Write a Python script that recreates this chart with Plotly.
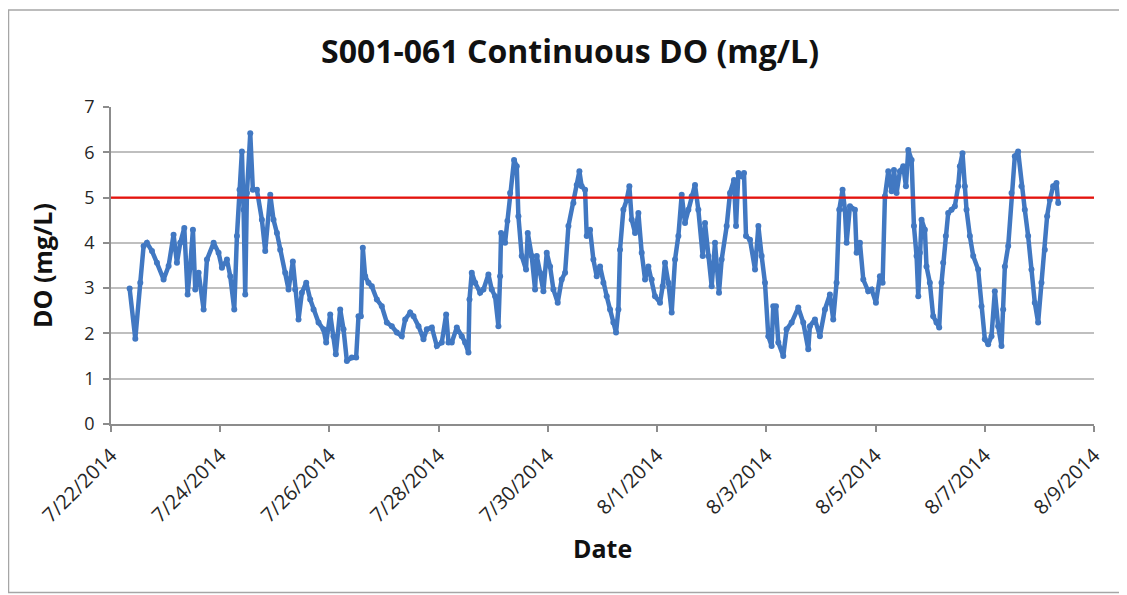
import pandas as pd
import plotly.graph_objects as go

# Days elapsed since 7/22/2014 00:00 and DO readings (mg/L)
day_offsets = [
    0.341, 0.445, 0.536, 0.597, 0.658, 0.750, 0.841, 0.963, 1.055, 1.146,
    1.207, 1.268, 1.342, 1.403, 1.451, 1.500, 1.543, 1.604, 1.696, 1.757,
    1.879, 1.970, 2.031, 2.123, 2.184, 2.257, 2.306, 2.354, 2.397, 2.428,
    2.458, 2.489, 2.550, 2.598, 2.672, 2.763, 2.824, 2.916, 2.976, 3.038,
    3.098, 3.190, 3.251, 3.330, 3.373, 3.434, 3.495, 3.575, 3.648, 3.709,
    3.800, 3.892, 3.940, 4.014, 4.075, 4.117, 4.197, 4.258, 4.319, 4.410,
    4.489, 4.532, 4.575, 4.611, 4.654, 4.715, 4.776, 4.868, 4.959, 5.051,
    5.142, 5.234, 5.325, 5.387, 5.478, 5.539, 5.631, 5.722, 5.783, 5.875,
    5.966, 6.057, 6.137, 6.180, 6.240, 6.332, 6.423, 6.484, 6.545, 6.564,
    6.606, 6.668, 6.759, 6.820, 6.911, 6.972, 7.033, 7.094, 7.125, 7.143,
    7.216, 7.259, 7.308, 7.381, 7.430, 7.460, 7.521, 7.600, 7.631, 7.704,
    7.765, 7.796, 7.857, 7.918, 7.979, 8.040, 8.101, 8.180, 8.253, 8.315,
    8.376, 8.467, 8.528, 8.577, 8.619, 8.681, 8.711, 8.772, 8.833, 8.894,
    8.955, 9.016, 9.077, 9.138, 9.199, 9.248, 9.291, 9.321, 9.382, 9.443,
    9.492, 9.535, 9.596, 9.657, 9.718, 9.779, 9.840, 9.901, 9.961, 10.053,
    10.102, 10.144, 10.206, 10.267, 10.328, 10.389, 10.450, 10.511, 10.572, 10.633,
    10.694, 10.755, 10.835, 10.877, 10.938, 10.999, 11.060, 11.133, 11.182, 11.274,
    11.335, 11.408, 11.445, 11.488, 11.549, 11.591, 11.628, 11.701, 11.793, 11.854,
    11.914, 11.975, 12.036, 12.097, 12.127, 12.176, 12.219, 12.310, 12.371, 12.463,
    12.585, 12.676, 12.768, 12.798, 12.890, 12.981, 13.073, 13.164, 13.225, 13.286,
    13.335, 13.396, 13.439, 13.470, 13.531, 13.622, 13.653, 13.714, 13.775, 13.866,
    13.927, 14.007, 14.080, 14.129, 14.172, 14.233, 14.294, 14.337, 14.385, 14.446,
    14.507, 14.556, 14.599, 14.660, 14.703, 14.751, 14.782, 14.811, 14.842, 14.903,
    14.933, 14.994, 15.055, 15.116, 15.165, 15.208, 15.238, 15.287, 15.330, 15.391,
    15.452, 15.513, 15.544, 15.592, 15.635, 15.666, 15.727, 15.788, 15.879, 15.940,
    16.001, 16.062, 16.123, 16.184, 16.245, 16.306, 16.337, 16.368, 16.429, 16.490,
    16.550, 16.611, 16.672, 16.733, 16.794, 16.855, 16.916, 16.977, 17.038, 17.099,
    17.142, 17.191, 17.252, 17.313, 17.344,
]
do_values = [
    2.99, 1.88, 3.12, 3.93, 4.00, 3.82, 3.56, 3.19, 3.49, 4.18,
    3.56, 4.00, 4.33, 2.86, 3.49, 4.29, 2.97, 3.34, 2.53, 3.63,
    4.00, 3.78, 3.45, 3.63, 3.26, 2.53, 4.15, 5.17, 6.02, 4.73,
    2.86, 5.10, 6.42, 5.17, 5.17, 4.51, 3.82, 5.06, 4.51, 4.22,
    3.85, 3.34, 2.97, 3.59, 2.97, 2.31, 2.90, 3.12, 2.75, 2.53,
    2.24, 2.09, 1.80, 2.42, 1.94, 1.54, 2.53, 2.09, 1.39, 1.47,
    1.47, 2.38, 2.38, 3.89, 3.26, 3.12, 3.04, 2.75, 2.60, 2.24,
    2.16, 2.02, 1.94, 2.31, 2.46, 2.38, 2.16, 1.87, 2.09, 2.13,
    1.72, 1.80, 2.42, 1.80, 1.80, 2.13, 1.94, 1.80, 1.58, 2.75,
    3.34, 3.12, 2.90, 2.97, 3.30, 2.97, 2.82, 2.16, 3.26, 4.22,
    4.00, 4.48, 5.10, 5.83, 5.69, 4.59, 3.71, 3.41, 4.22, 3.71,
    2.97, 3.71, 3.34, 2.93, 3.78, 3.48, 2.97, 2.68, 3.19, 3.34,
    4.37, 4.88, 5.28, 5.58, 5.25, 5.17, 4.15, 4.29, 3.63, 3.26,
    3.48, 3.12, 2.82, 2.53, 2.24, 2.02, 2.53, 3.85, 4.73, 4.95,
    5.25, 4.51, 4.22, 4.66, 3.78, 3.19, 3.48, 3.19, 2.82, 2.68,
    3.04, 3.56, 3.12, 2.46, 3.63, 4.15, 5.06, 4.44, 4.73, 5.03,
    5.28, 4.73, 3.71, 4.44, 3.71, 3.04, 4.00, 2.90, 3.63, 4.37,
    5.10, 5.39, 4.37, 5.54, 5.47, 5.54, 4.15, 4.07, 3.41, 4.37,
    3.71, 3.12, 1.94, 1.72, 2.60, 2.60, 1.80, 1.50, 2.09, 2.24,
    2.57, 2.24, 1.65, 2.16, 2.31, 1.94, 2.53, 2.86, 2.31, 3.12,
    4.73, 5.17, 4.73, 4.00, 4.81, 4.73, 3.78, 4.00, 3.19, 2.93,
    2.97, 2.68, 3.26, 3.12, 5.03, 5.58, 5.14, 5.61, 5.10, 5.58,
    5.69, 5.25, 6.05, 5.83, 4.37, 3.71, 2.82, 3.78, 4.51, 4.29,
    3.48, 3.12, 2.38, 2.24, 2.13, 3.12, 3.56, 4.15, 4.66, 4.73,
    4.81, 5.25, 5.69, 5.98, 5.25, 4.73, 4.15, 3.71, 3.41, 2.60,
    1.87, 1.76, 1.94, 2.93, 2.16, 1.72, 2.53, 3.48, 3.93, 5.10,
    5.91, 6.02, 5.25, 4.73, 4.15, 3.41, 2.68, 2.24, 3.12, 3.85,
    4.59, 4.95, 5.25, 5.32, 4.88,
]

start_date = "2014-07-22"
end_date = "2014-08-09"
standard_value = 5.0
tick_dates = ["2014-07-22", "2014-07-24", "2014-07-26", "2014-07-28", "2014-07-30",
              "2014-08-01", "2014-08-03", "2014-08-05", "2014-08-07", "2014-08-09"]
tick_labels = ["7/22/2014", "7/24/2014", "7/26/2014", "7/28/2014", "7/30/2014",
               "8/1/2014", "8/3/2014", "8/5/2014", "8/7/2014", "8/9/2014"]

times = pd.Timestamp(start_date) + pd.to_timedelta(day_offsets, unit="D")

FONT = "'Open Sans', Lato, sans-serif"
BLUE = "#4178C2"
TXT = "#262626"

fig = go.Figure()
fig.add_trace(go.Scatter(
    x=times, y=do_values, mode="lines+markers",
    line=dict(color=BLUE, width=4.5),
    marker=dict(color=BLUE, size=6),
    showlegend=False,
))
fig.add_trace(go.Scatter(
    x=[pd.Timestamp(start_date), pd.Timestamp(end_date)],
    y=[standard_value, standard_value], mode="lines",
    line=dict(color="#E8120C", width=2.2),
    showlegend=False,
))

# The page body adds an 8 px offset, so the figure is laid out 8 px smaller.
OFF = 8
W, H = 1127 - OFF, 595 - OFF
L, R, T, B = 111 - OFF, 1094 - OFF, 107 - OFF, 424 - OFF
pw, ph = R - L, B - T


def px(x):
    return (x - OFF - L) / pw


def py(y):
    return (B - (y - OFF)) / ph


fig.update_layout(
    width=W, height=H,
    margin=dict(l=L, r=W - R, t=T, b=H - B, autoexpand=False),
    paper_bgcolor="white", plot_bgcolor="white",
    font=dict(family=FONT, color=TXT),
    title=dict(text="<b>S001-061 Continuous DO (mg/L)</b>",
               x=(570 - OFF) / W, xanchor="center",
               y=1 - (52 - OFF) / H, yanchor="middle",
               font=dict(size=32, color="#111111", family=FONT)),
    xaxis=dict(
        type="date",
        range=[start_date, end_date],
        tickmode="array", tickvals=tick_dates, ticktext=tick_labels,
        tickangle=-45, tickfont=dict(size=20, color=TXT), ticklabelstandoff=4,
        showgrid=False, showline=True, linecolor="#8C8C8C", linewidth=1.5,
        ticks="outside", ticklen=6, tickcolor="#8C8C8C", tickwidth=1.5,
        zeroline=False, fixedrange=True, automargin=False,
    ),
    yaxis=dict(
        range=[0, 7], tickmode="array", tickvals=[0, 1, 2, 3, 4, 5, 6, 7],
        tickfont=dict(size=18, color=TXT), ticklabelstandoff=5,
        showgrid=True, gridcolor="#BFBFBF", gridwidth=1.5,
        showline=True, linecolor="#8C8C8C", linewidth=1.5,
        ticks="outside", ticklen=6, tickcolor="#8C8C8C", tickwidth=1.5,
        zeroline=False, fixedrange=True, automargin=False,
    ),
    annotations=[
        dict(text="<b>Date</b>", xref="paper", yref="paper",
             x=px(602), y=py(548), xanchor="center", yanchor="middle",
             showarrow=False, font=dict(size=25, color="#111111", family=FONT)),
        dict(text="<b>DO (mg/L)</b>", xref="paper", yref="paper",
             x=px(42), y=py(266), xanchor="center", yanchor="middle",
             textangle=-90, showarrow=False,
             font=dict(size=25, color="#111111", family=FONT)),
    ],
    shapes=[
        dict(type="rect", xref="paper", yref="paper", layer="below",
             x0=px(8.5), x1=px(1125), y0=py(592.5), y1=py(10),
             line=dict(color="#A6A6A6", width=1.5), fillcolor="rgba(0,0,0,0)"),
    ],
)

fig.write_html("out.html")
